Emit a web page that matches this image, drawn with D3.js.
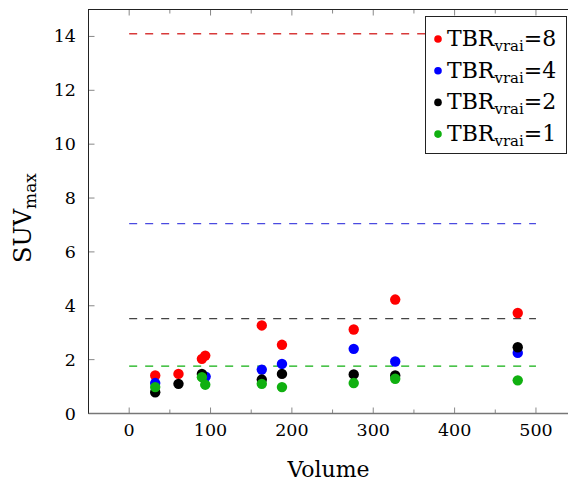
<!DOCTYPE html>
<html><head><meta charset="utf-8">
<script src="https://cdn.jsdelivr.net/npm/d3@7"></script>
<style>body{margin:0;background:#fff}svg{display:block}text{font-family:"DejaVu Serif",serif;fill:#000}</style>
</head><body><svg id="c" width="568" height="481"></svg>
<script>
// Data
const seriesNames = ["8", "4", "2", "1"];
const seriesColors = ["#ff0000", "#0000ff", "#000000", "#10b010"];
const red8 = [[32,1.41],[60.6,1.47],[89.4,2.03],[93.5,2.15],[163,3.27],[187.8,2.55],[276,3.12],[327,4.23],[477.6,3.73]];
const blue4 = [[32,1.13],[94,1.37],[163,1.63],[187.8,1.84],[276,2.40],[327,1.93],[477.6,2.25]];
const black2 = [[32,0.79],[60.6,1.10],[89.4,1.47],[163,1.26],[187.8,1.47],[276,1.45],[327,1.41],[477.6,2.46]];
const green1 = [[32,0.98],[89.4,1.35],[93.5,1.07],[163,1.10],[187.8,0.98],[276,1.13],[327,1.29],[477.6,1.23]];
const refLevels = [14.1, 7.05, 3.52, 1.76];
const refColors = ["#d83a3a", "#4a4ae0", "#444444", "#10b010"];
const xTicks = [0,100,200,300,400,500];
const xMinor = [-50,50,150,250,350,450,550];
const yTicks = [0,2,4,6,8,10,12,14];

const svg = d3.select("#c");
const L=88.5, R=568.5, T=9.5, B=413.5;
const x = d3.scaleLinear().domain([-50,540]).range([L,R]);
const y = d3.scaleLinear().domain([0,15]).range([B,T]);

// reference lines
refLevels.forEach((v,i)=>{
  svg.append("line").attr("x1",x(0)).attr("x2",x(500)).attr("y1",y(v)).attr("y2",y(v))
    .attr("stroke",refColors[i]).attr("stroke-width",1.3).attr("stroke-dasharray","8,8");
});

// ticks
const tk = svg.append("g").attr("stroke","#888").attr("stroke-width",1);
xTicks.forEach(t=>{
  tk.append("line").attr("x1",x(t)).attr("x2",x(t)).attr("y1",B).attr("y2",B-6);
  tk.append("line").attr("x1",x(t)).attr("x2",x(t)).attr("y1",T).attr("y2",T+6);
});
xMinor.filter(t=>x(t)>L && x(t)<R).forEach(t=>{
  tk.append("line").attr("x1",x(t)).attr("x2",x(t)).attr("y1",B).attr("y2",B-4);
  tk.append("line").attr("x1",x(t)).attr("x2",x(t)).attr("y1",T).attr("y2",T+4);
});
yTicks.forEach(t=>{
  tk.append("line").attr("x1",L).attr("x2",L+6).attr("y1",y(t)).attr("y2",y(t));
});

// frame
svg.append("rect").attr("x",L).attr("y",T).attr("width",R-L).attr("height",B-T)
  .attr("fill","none").attr("stroke","#222").attr("stroke-width",1);
svg.append("line").attr("x1",L).attr("x2",R).attr("y1",B).attr("y2",B).attr("stroke","#777").attr("stroke-width",1.5);

// tick labels
xTicks.forEach(t=>{
  svg.append("text").attr("x",x(t)).attr("y",436).attr("text-anchor","middle")
    .attr("font-size",17.5).text(t);
});
yTicks.forEach(t=>{
  svg.append("text").attr("x",76).attr("y",y(t)+6).attr("text-anchor","end")
    .attr("font-size",17.5).text(t);
});

// axis labels
svg.append("text").attr("x",(x(-50)+x(540))/2).attr("y",477).attr("text-anchor","middle")
  .attr("font-size",22).text("Volume");
const yl = svg.append("text").attr("transform","translate(31,218) rotate(-90)").attr("text-anchor","middle").attr("font-size",24);
yl.append("tspan").text("SUV");
yl.append("tspan").attr("dy",5).attr("font-size",17).text("max");

// points
const allSeries = [red8, blue4, black2, green1];
allSeries.forEach((s,i)=>{
  svg.append("g").selectAll("circle").data(s).join("circle")
    .attr("cx",d=>x(d[0])).attr("cy",d=>y(d[1])).attr("r",5.2).attr("fill",seriesColors[i]);
});

// legend
const lg = svg.append("g");
lg.append("rect").attr("x",425.5).attr("y",16.5).attr("width",141).attr("height",137)
  .attr("fill","#fff").attr("stroke","#222").attr("stroke-width",1);
seriesNames.forEach((n,i)=>{
  const cy = 38 + i*31.7;
  lg.append("circle").attr("cx",438).attr("cy",cy+1).attr("r",3.8).attr("fill",seriesColors[i]);
  const t = lg.append("text").attr("x",447).attr("y",cy+8).attr("font-size",22);
  t.append("tspan").text("TBR");
  t.append("tspan").attr("dy",5).attr("font-size",15).text("vrai");
  t.append("tspan").attr("dy",-5).text("="+n);
});
</script></body></html>
